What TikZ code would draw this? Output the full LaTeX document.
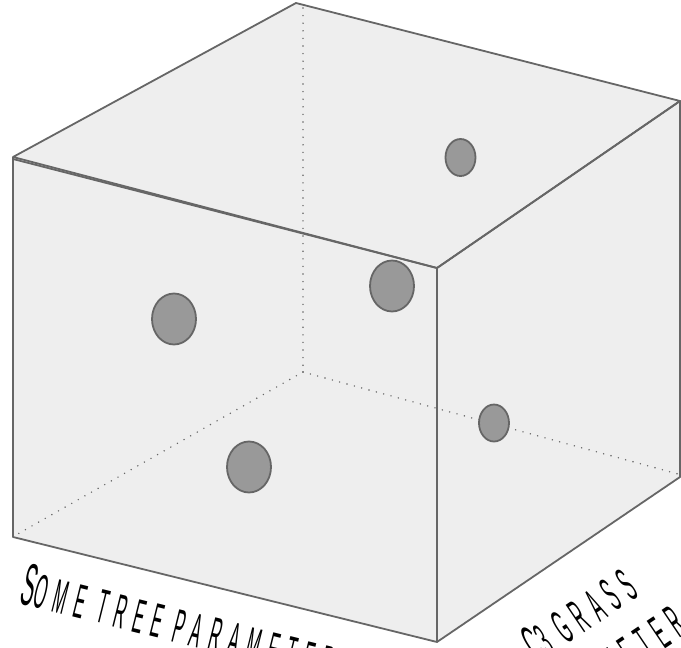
\documentclass[tikz,border=0pt]{standalone}
\usepackage{fontspec}
\newfontfamily\hand[FakeStretch=0.33,LetterSpace=17]{Liberation Sans}
\usetikzlibrary{shapes.geometric}
\definecolor{edgec}{RGB}{102,102,102}
\definecolor{facec}{RGB}{238,238,238}
\definecolor{dotc}{RGB}{153,153,153}
\tikzset{
  edge/.style={draw=edgec,line width=1.8pt,line join=round},
  hidden/.style={draw=edgec,line width=1.6pt,dash pattern=on 0pt off 7.6pt,line cap=round},
  blob/.style={ellipse,draw=edgec,line width=1.8pt,fill=dotc,inner sep=0pt},
  big/.style={blob,minimum width=44pt,minimum height=51pt},
  small/.style={blob,minimum width=30pt,minimum height=37pt},
  axislabel/.style={font=\hand\fontsize{48}{58}\selectfont,text=black,inner sep=0pt}
}
\begin{document}
\begin{tikzpicture}[x=1pt,y=-1pt]
\useasboundingbox (0,0) rectangle (681,648);
\clip (0,0) rectangle (681,648);
% vertices
\coordinate (TL) at (13,157);
\coordinate (TL2) at (13,159);
\coordinate (TB) at (296,3);
\coordinate (TR) at (680,101);
\coordinate (TF) at (437,268);
\coordinate (BL) at (13,537);
\coordinate (BF) at (437,642);
\coordinate (BR) at (680,477);
\coordinate (BB) at (303,372);
\coordinate (TBd) at (303,8);
\coordinate (BRd) at (678,474);
\coordinate (BLd) at (16,535);
% faces
\fill[facec] (TL) -- (TB) -- (TR) -- (BR) -- (BF) -- (BL) -- cycle;
% hidden edges
\draw[hidden] (TBd) -- (BB);
\draw[hidden] (BB) -- (BLd);
\draw[hidden] (BB) -- (BRd);
% visible edges
\draw[edge] (TL) -- (TB) -- (TR) -- (TF) -- cycle;
\draw[edge] (TL2) -- (TF) -- (BF) -- (BL) -- (TL) ;
\draw[edge] (TF) -- (TR) -- (BR) -- (BF);
% points
\node[small] (p1) at (460.5,157.5) {};
\node[big] (p2) at (174,319) {};
\node[big] (p3) at (392,286) {};
\node[big] (p4) at (249,467) {};
\node[small] (p5) at (494,423) {};
% labels
\node[axislabel,anchor=base west,rotate=-14] (lx) at (18,603)
  {{\fontsize{60}{58}\selectfont S}OME TREE PARAMETER};
\node[axislabel,align=center,rotate=34] (ly) at (595,638)
  {{\fontsize{54}{58}\selectfont C}3 GRASS\\PARAMETER};
\end{tikzpicture}
\end{document}
